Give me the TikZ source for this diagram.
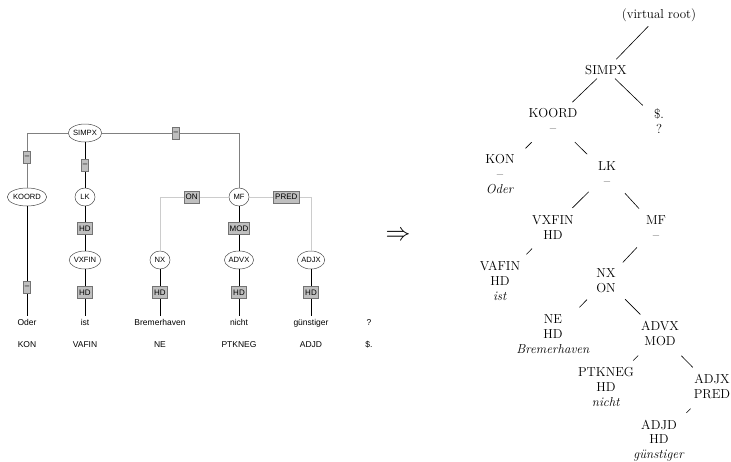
\documentclass[tikz,border=0pt]{standalone}
\usepackage{fontspec}
\newfontfamily\helv{Liberation Sans}
\usetikzlibrary{shapes.geometric, positioning}

\begin{document}
\begin{tikzpicture}[
  x=1pt, y=-1pt,
  cat/.style={ellipse, draw=black!70, fill=white, line width=0.5pt, inner sep=0pt, minimum width=20pt, minimum height=18pt, font=\helv\fontsize{7.6}{9}\selectfont},
  fn/.style={rectangle, draw=black!55, fill=black!25, inner xsep=1.5pt, inner ysep=1pt, minimum height=12pt, font=\helv\fontsize{8}{9}\selectfont},
  word/.style={anchor=base, text height=6.5pt, text depth=2pt, inner sep=2.5pt, font=\helv\fontsize{8.5}{10}\selectfont},
  head/.style={draw=black, line width=0.9pt},
  side/.style={draw=black!50, line width=0.6pt},
  faint/.style={draw=black!20, line width=0.8pt},
  dep/.style={align=center, anchor=north, inner sep=0pt, font=\fontsize{13}{15}\selectfont},
  link/.style={line width=0.6pt, shorten <=13pt, shorten >=10pt},
]
  \useasboundingbox (0,0) rectangle (731,461);

  % left: bracketed tree
  \node[cat] (simpx) at (85,133) {SIMPX};
  \node[cat] (koord) at (27,197) {KOORD};
  \node[cat] (lk) at (85,197) {LK};
  \node[cat] (mf) at (239,197) {MF};
  \node[cat] (vxfin) at (85,260) {VXFIN};
  \node[cat] (nx) at (160,260) {NX};
  \node[cat] (advx) at (239,260) {ADVX};
  \node[cat] (adjx) at (311,260) {ADJX};

  \foreach \x/\w/\p/\n in {27/Oder/KON/1, 85/ist/VAFIN/2, 160/Bremerhaven/NE/3, 239/nicht/PTKNEG/4, 311/günstiger/ADJD/5, 369/?/\$./6} {
    \node[word] (w\n) at (\x,325) {\w};
    \node[word] (p\n) at (\x,347) {\p};
  }

  \draw[side] (simpx) -| node[fn, pos=0.72] {–} (koord);
  \draw[side] (simpx) -| node[fn, pos=0.27] {–} (mf);
  \draw[head] (simpx) -- node[fn] {–} (lk);
  \draw[head] (lk) -- node[fn] {HD} (vxfin);
  \draw[head] (vxfin) -- node[fn] {HD} (w2);
  \draw[head] (koord) -- node[fn, pos=0.74] {–} (w1);
  \draw[faint] (mf) -| node[fn, pos=0.27] {ON} (nx);
  \draw[faint] (mf) -| node[fn, pos=0.3] {PRED} (adjx);
  \draw[head] (mf) -- node[fn] {MOD} (advx);
  \draw[head] (nx) -- node[fn] {HD} (w3);
  \draw[head] (advx) -- node[fn] {HD} (w4);
  \draw[head] (adjx) -- node[fn] {HD} (w5);

  \node[font=\fontsize{25}{25}\selectfont] (arr) at (398,236) {$\Rightarrow$};

  % right: dependency-style tree
  \node[dep] (vroot) at (659,8.5) {(virtual root)};
  \node[dep] (rsimpx) at (606,65) {SIMPX};
  \node[dep] (rkoord) at (553,108.5) {KOORD\\–};
  \node[dep] (rdot) at (659,108.5) {\$.\\?};
  \node[dep] (rkon) at (500,154) {KON\\–\\\textit{Oder}};
  \node[dep] (rlk) at (607,161.5) {LK\\–};
  \node[dep] (rvxfin) at (553,215) {VXFIN\\HD};
  \node[dep] (rmf) at (656,215) {MF\\–};
  \node[dep] (rvafin) at (500,261.5) {VAFIN\\HD\\\textit{ist}};
  \node[dep] (rnx) at (606,268) {NX\\ON};
  \node[dep] (rne) at (553,314.5) {NE\\HD\\\textit{Bremerhaven}};
  \node[dep] (radvx) at (660,321.5) {ADVX\\MOD};
  \node[dep] (rptkneg) at (606,367.5) {PTKNEG\\HD\\\textit{nicht}};
  \node[dep] (radjx) at (712,374.5) {ADJX\\PRED};
  \node[dep, font=\fontsize{13}{14.5}\selectfont] (radjd) at (659,420) {ADJD\\HD\\\textit{günstiger}};

  \draw[link, shorten <=6pt, shorten >=8pt] (vroot) -- (rsimpx);
  \draw[link, shorten <=5.5pt, shorten >=9pt] (rsimpx) -- (rkoord);
  \draw[link, shorten <=5.5pt, shorten >=15.5pt] (rsimpx) -- (rdot);
  \draw[link, shorten >=15pt] (rkoord) -- (rkon);
  \draw[link, shorten >=15pt] (rkoord) -- (rlk);
  \draw[link] (rlk) -- (rvxfin);
  \draw[link] (rlk) -- (rmf);
  \draw[link] (rvxfin) -- (rvafin);
  \draw[link] (rmf) -- (rnx);
  \draw[link] (rnx) -- (rne);
  \draw[link] (rnx) -- (radvx);
  \draw[link] (radvx) -- (rptkneg);
  \draw[link] (radvx) -- (radjx);
  \draw[link] (radjx) -- (radjd);
\end{tikzpicture}
\end{document}
